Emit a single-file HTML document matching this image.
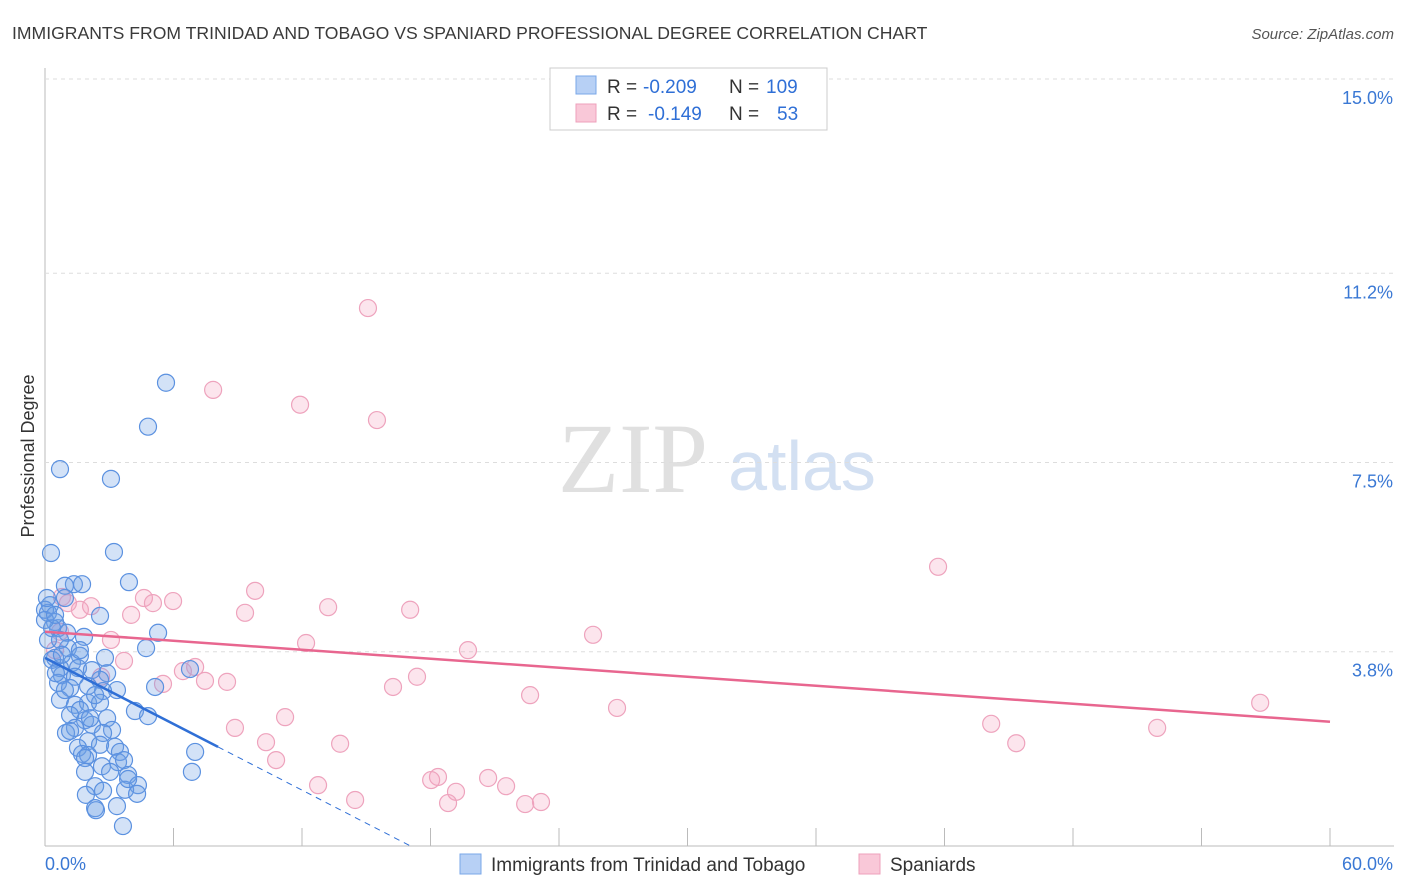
<!DOCTYPE html>
<html><head><meta charset="utf-8"><style>
body{margin:0;background:#fff;font-family:"Liberation Sans",sans-serif;}
svg{display:block}
</style></head><body>
<svg id="chart" width="1406" height="892" viewBox="0 0 1406 892">
<text x="12" y="39" font-size="17.6" fill="#3a3a3a">IMMIGRANTS FROM TRINIDAD AND TOBAGO VS SPANIARD PROFESSIONAL DEGREE CORRELATION CHART</text>
<text x="1394" y="39" font-size="15" fill="#555" font-style="italic" text-anchor="end">Source: ZipAtlas.com</text>
<text x="633" y="492" font-size="100" fill="#e0e0e0" font-family="Liberation Serif,serif" text-anchor="middle">ZIP</text>
<text x="802" y="490" font-size="70" fill="#d3e0f2" text-anchor="middle">atlas</text>
<text x="34" y="456" font-size="18" fill="#333" text-anchor="middle" transform="rotate(-90 34 456)">Professional Degree</text>
<g id="grid"></g><g id="marks"></g>
<g>
<rect x="550" y="68" width="277" height="62" fill="#fff" stroke="#ccc"/>
<rect x="576" y="76" width="20" height="18" fill="#b7d0f5" stroke="#7aa7e8"/>
<text x="607" y="93" font-size="19" fill="#333">R =</text>
<text x="643" y="93" font-size="19" fill="#2f6fd6">-0.209</text>
<text x="729" y="93" font-size="19" fill="#333">N =</text>
<text x="766" y="93" font-size="19" fill="#2f6fd6">109</text>
<rect x="576" y="104" width="20" height="18" fill="#f9c8d8" stroke="#eea0bb"/>
<text x="607" y="120" font-size="19" fill="#333">R =</text>
<text x="648" y="120" font-size="19" fill="#2f6fd6">-0.149</text>
<text x="729" y="120" font-size="19" fill="#333">N =</text>
<text x="777" y="120" font-size="19" fill="#2f6fd6">53</text>
</g>
<g>
<rect x="460" y="854" width="21" height="20" fill="#b7d0f5" stroke="#7aa7e8"/>
<text x="491" y="871" font-size="19" fill="#333">Immigrants from Trinidad and Tobago</text>
<rect x="859" y="854" width="21" height="20" fill="#f9c8d8" stroke="#eea0bb"/>
<text x="890" y="871" font-size="19" fill="#333">Spaniards</text>
</g>
</svg>
<script>
const blueX=[5.65,4.81,0.70,3.08,0.28,3.22,3.92,1.35,1.73,0.93,0.93,0.23,0.14,2.57,0.47,0.61,1.03,1.82,5.28,4.72,1.07,0.47,1.63,2.80,1.26,0.70,1.54,0.79,1.40,2.90,2.57,6.77,0.61,2.01,1.17,3.36,2.71,5.14,0.70,1.40,2.01,2.57,1.63,1.17,4.20,4.81,1.87,2.90,1.40,2.19,3.13,0.98,1.17,2.71,2.01,1.54,3.27,3.50,7.01,1.73,2.01,3.41,1.87,2.66,3.69,1.87,3.88,6.86,2.34,4.34,3.74,1.91,2.71,4.30,2.34,3.36,3.64,0,0,0.33,0.14,0.70,0.33,0.51,0.93,2.34,1.63,0.47,0.09,0.79,2.19,2.10,2.57,3.88,3.04,2.38];
const blueY=[9.06,8.20,7.37,7.18,5.73,5.75,5.16,5.12,5.12,5.09,4.85,4.71,4.56,4.50,4.38,4.26,4.17,4.09,4.17,3.87,3.87,3.68,3.72,3.68,3.58,3.48,3.48,3.34,3.31,3.38,3.25,3.46,3.19,3.13,3.09,3.05,3.03,3.11,2.86,2.76,2.80,2.80,2.66,2.56,2.64,2.54,2.46,2.50,2.31,2.37,2.27,2.21,2.25,2.21,2.05,1.92,1.94,1.84,1.84,1.80,1.78,1.64,1.72,1.56,1.68,1.45,1.39,1.45,1.17,1.19,1.10,1.00,1.08,1.02,0.74,0.78,0.39,4.62,4.42,4.26,4.03,4.03,3.64,3.38,3.05,2.95,3.83,4.52,4.85,3.74,3.44,2.50,1.98,1.31,1.45,0.70];
const pinkX=[15.08,7.85,11.91,15.50,41.70,9.81,4.62,5.98,5.04,13.22,17.05,9.34,4.02,2.15,1.63,0.79,1.07,25.59,3.08,12.19,19.75,3.69,7.01,6.44,2.62,17.37,5.51,7.47,8.50,16.25,22.65,26.71,56.74,11.21,8.87,44.18,51.93,10.32,13.78,45.35,10.79,18.35,18.03,20.69,12.75,19.19,21.53,14.48,18.82,22.42,23.16,0.47,0.70];
const pinkY=[10.52,8.92,8.63,8.33,5.46,4.99,4.85,4.79,4.75,4.67,4.62,4.56,4.52,4.69,4.62,4.87,4.75,4.13,4.03,3.97,3.83,3.62,3.50,3.42,3.31,3.31,3.17,3.23,3.21,3.11,2.95,2.70,2.80,2.52,2.31,2.39,2.31,2.03,2.00,2.01,1.68,1.35,1.29,1.33,1.19,1.06,1.17,0.90,0.84,0.82,0.86,3.83,4.19];
const yTicks=[15.0,11.2,7.5,3.8];
const yTickLabels=["15.0%","11.2%","7.5%","3.8%"];
const xTicks=[0,6,12,18,24,30,36,42,48,54,60];
const blueTrend=[3.68,-0.2156];
const pinkTrend=[4.19,2.43];

const NS="http://www.w3.org/2000/svg";
const sx=v=>45+v/60*1285;
const sy=v=>846-v/15*767;
function mk(tag,attrs,parent){const e=document.createElementNS(NS,tag);for(const k in attrs)e.setAttribute(k,attrs[k]);parent.appendChild(e);return e;}
const grid=document.getElementById('grid'),marks=document.getElementById('marks');
let ax=mk('line',{x1:45,y1:68,x2:45,y2:846,stroke:'#bbb'},grid);


let bx=mk('line',{x1:45,y1:846,x2:1394,y2:846,stroke:'#bbb'},grid);


yTicks.forEach((t,i)=>{
  const g=mk('line',{x1:45,x2:1394,y1:sy(t),y2:sy(t),stroke:'#ddd','stroke-dasharray':'4,4'},grid);
  
  
  const tx=mk('text',{x:1393,y:sy(t)+25,'font-size':18,fill:'#3a78d4','text-anchor':'end'},grid);
  tx.textContent=yTickLabels[i];
  
  
});
xTicks.forEach(t=>{
  const l=mk('line',{x1:sx(t),x2:sx(t),y1:828,y2:846,stroke:'#bbb'},grid);
  
  
});
const xl0=mk('text',{x:45,y:870,'font-size':18,fill:'#3a78d4'},grid);xl0.textContent=xTicks[0].toFixed(1)+'%';


const xl1=mk('text',{x:1393,y:870,'font-size':18,fill:'#3a78d4','text-anchor':'end'},grid);xl1.textContent=xTicks[xTicks.length-1].toFixed(1)+'%';



pinkX.forEach((x,i)=>{
  const c=mk('circle',{cx:sx(x),cy:sy(pinkY[i]),r:8.5,fill:'rgba(244,160,190,0.28)',stroke:'#eea3bd','stroke-width':1.2},marks);
  
  
});
blueX.forEach((x,i)=>{
  const c=mk('circle',{cx:sx(x),cy:sy(blueY[i]),r:8.5,fill:'rgba(110,160,230,0.3)',stroke:'#5b91e0','stroke-width':1.2},marks);
  
  
});
const bEnd=8.08, bZero=-blueTrend[0]/blueTrend[1];
let bl=mk('line',{x1:sx(0),y1:sy(blueTrend[0]),x2:sx(bEnd),y2:sy(blueTrend[0]+blueTrend[1]*bEnd),stroke:'#2f6fd6','stroke-width':2.5},marks);


let bd=mk('line',{x1:sx(bEnd),y1:sy(blueTrend[0]+blueTrend[1]*bEnd),x2:sx(bZero),y2:sy(0),stroke:'#2f6fd6','stroke-width':1,'stroke-dasharray':'6,5'},marks);


let pl=mk('line',{x1:sx(0),y1:sy(pinkTrend[0]),x2:sx(60),y2:sy(pinkTrend[1]),stroke:'#e8668f','stroke-width':2.5},marks);


</script>
</body></html>
